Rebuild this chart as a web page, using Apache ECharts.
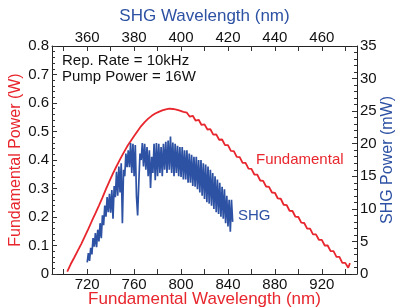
<!DOCTYPE html>
<html><head><meta charset="utf-8">
<script src="https://cdn.jsdelivr.net/npm/echarts@6/dist/echarts.min.js"></script>
<style>html,body{margin:0;padding:0;background:#fff}#c{width:397px;height:308px}</style>
</head><body><div id="c"></div>
<script>
// Fundamental (red) : wavelength (nm) and power (W)
const fundWl = [703,706,709,712,715,718,721,724,727,730,733,736,739,742,745,748,751,754,757,760,763,766,769,772,775,778,781,784,787,790,793,796,799,802,
  805,807.5,810,812.5,815,817.5,820,822.5,825,827.5,830,832.5,835,837.5,840,842.5,845,847.5,850,852.5,855,857.5,860,862.5,865,867.5,870,872.5,875,877.5,880,882.5,885,887.5,890,892.5,895,897.5,900,902.5,905,907.5,910,912.5,915,917.5,920,922.5,925,927.5,930,932.5,935,937.5,940,942.5,944];
const fundPow = [0.008,0.035,0.058,0.082,0.106,0.132,0.158,0.186,0.213,0.240,0.268,0.298,0.326,0.353,0.378,0.402,0.425,0.447,0.466,0.484,0.502,0.519,0.533,0.545,0.555,0.563,0.569,0.574,0.578,0.580,0.579,0.577,0.573,0.569,
  0.566,0.552,0.555,0.538,0.541,0.523,0.525,0.507,0.508,0.489,0.490,0.471,0.472,0.452,0.452,0.432,0.431,0.411,0.410,0.390,0.390,0.370,0.369,0.349,0.349,0.328,0.327,0.307,0.306,0.286,0.285,0.265,0.264,0.243,0.242,0.222,0.221,0.201,0.200,0.180,0.179,0.159,0.159,0.139,0.139,0.120,0.120,0.100,0.100,0.080,0.080,0.060,0.060,0.039,0.039,0.022,0.038];
// SHG (blue) : fundamental wavelength (nm) and SHG power (mW)
const shgWl = [720,721,722,723,724,725,726,727,728,729,730,731,732,733,734,735,736,737,738,739,740,741,742,743,744,745,746,747,748,749,750,751,752,753,754,755,756,757,758,759,760,761,762,763,764,765,766,767,768,769,770,771,772,773,774,775,776,777,778,779,780,781,782,783,784,785,786,787,788,789,790,791,792,793,794,795,796,797,798,799,800,801,802,803,804,805,806,807,808,809,810,811,812,813,814,815,816,817,818,819,820,821,822,823,824,825,826,827,828,829,830,831,832,833,834,835,836,837,838,839,840,841,842,843,844];
const shgPow = [1.8,3.2,2.0,4.0,3.0,5.5,4.2,6.3,4.1,6.8,5.0,7.8,5.5,9.0,7.5,10.5,8.8,11.8,9.5,12.3,9.4,12.9,8.5,13.5,11.8,15.7,12.0,16.5,12.5,17.0,7.8,16.0,15.0,18.5,16.4,19.0,16.4,20.1,15.5,20.0,15.0,19.8,12.0,9.0,14.0,18.5,17.5,20.1,16.5,20.0,16.0,19.5,15.0,19.0,13.2,18.0,15.5,20.0,14.4,20.1,15.0,20.0,15.5,19.5,15.0,20.0,16.0,20.3,15.5,20.5,16.0,21.1,15.5,20.2,15.0,20.0,15.5,19.7,15.0,19.5,14.9,19.5,14.5,19.0,14.5,19.0,14.0,18.5,14.0,18.3,13.5,18.0,13.4,18.0,13.0,17.5,12.5,17.5,12.0,17.0,11.5,16.8,11.0,16.5,10.8,16.0,10.5,15.5,10.0,15.0,9.5,14.5,9.2,14.0,8.8,13.4,8.5,13.0,7.8,12.0,7.3,11.4,6.5,11.4,8.0];
// Tick values
const bottomLabels = [720,760,800,840,880,920];
const bottomTicks = [700,720,740,760,780,800,820,840,860,880,900,920,940];
const topLabels = [360,380,400,420,440,460];
const topTicks = [350,360,370,380,390,400,410,420,430,440,450,460,470];

const RED = '#e8262d', BLUE = '#2d51a3', FONT = 'Liberation Sans';
const line = () => ({show:true, onZero:false, lineStyle:{color:'#222', width:1}});
const tick = (len, vals) => {
  const t = {show:true, inside:true, length:len, lineStyle:{color:'#333', width:1}};
  if (vals) t.customValues = vals;
  return t;
};
const chart = echarts.init(document.getElementById('c'), null, {renderer:'canvas'});
chart.setOption({
  animation:false,
  grid:{left:52, right:40, top:46, bottom:34, outerBoundsMode:'none', containLabel:false},
  xAxis:[
    {type:'value', position:'bottom', min:690, max:950,
     axisLine:line(), splitLine:{show:false},
     axisTick:tick(5, bottomTicks),
     axisLabel:{show:true, customValues:bottomLabels, color:'#111', fontSize:15, fontFamily:FONT, margin:3},
     name:'Fundamental Wavelength (nm)', nameLocation:'middle', nameGap:17, nameMoveOverlap:false,
     nameTextStyle:{color:RED, fontSize:17, fontFamily:FONT}},
    {type:'value', position:'top', min:345, max:475,
     axisLine:line(), splitLine:{show:false},
     axisTick:tick(5, topTicks),
     axisLabel:{show:true, customValues:topLabels, color:'#111', fontSize:15, fontFamily:FONT, margin:1},
     name:'SHG Wavelength (nm)', nameLocation:'middle', nameGap:21, nameMoveOverlap:false,
     nameTextStyle:{color:BLUE, fontSize:17, fontFamily:FONT}}
  ],
  yAxis:[
    {type:'value', position:'left', min:0, max:0.8, interval:0.1,
     axisLine:line(), splitLine:{show:false},
     axisTick:tick(5),
     minorTick:{show:true, splitNumber:5, length:3, lineStyle:{color:'#333', width:1}},
     axisLabel:{color:'#111', fontSize:15, fontFamily:FONT, margin:3, formatter:v=>v===0?'0':v.toFixed(1)},
     name:'Fundamental Power (W)', nameLocation:'middle', nameGap:28, nameRotate:90, nameMoveOverlap:false,
     nameTextStyle:{color:RED, fontSize:16, fontFamily:FONT}},
    {type:'value', position:'right', min:0, max:35, interval:5,
     axisLine:line(), splitLine:{show:false},
     axisTick:tick(5),
     minorTick:{show:true, splitNumber:5, length:3, lineStyle:{color:'#333', width:1}},
     axisLabel:{color:'#111', fontSize:15, fontFamily:FONT, margin:3},
     name:'SHG Power (mW)', nameLocation:'middle', nameGap:23, nameRotate:90, nameMoveOverlap:false,
     nameTextStyle:{color:BLUE, fontSize:16, fontFamily:FONT}}
  ],
  series:[
    {type:'line', xAxisIndex:0, yAxisIndex:0, showSymbol:false, smooth:false,
     lineStyle:{color:RED, width:1.8}, data:fundWl.map((x,i)=>[x,fundPow[i]])},
    {type:'line', xAxisIndex:0, yAxisIndex:1, showSymbol:false, smooth:false,
     lineStyle:{color:BLUE, width:1.7}, data:shgWl.map((x,i)=>[x,shgPow[i]])}
  ],
  graphic:[
    {type:'text', left:62, top:53, style:{text:'Rep. Rate = 10kHz', fill:'#111', font:'15px "Liberation Sans"'}},
    {type:'text', left:62, top:69, style:{text:'Pump Power = 16W', fill:'#111', font:'15px "Liberation Sans"'}},
    {type:'text', left:256, top:152, style:{text:'Fundamental', fill:RED, font:'15px "Liberation Sans"'}},
    {type:'text', left:238, top:208, style:{text:'SHG', fill:BLUE, font:'15px "Liberation Sans"'}}
  ]
});
</script></body></html>
